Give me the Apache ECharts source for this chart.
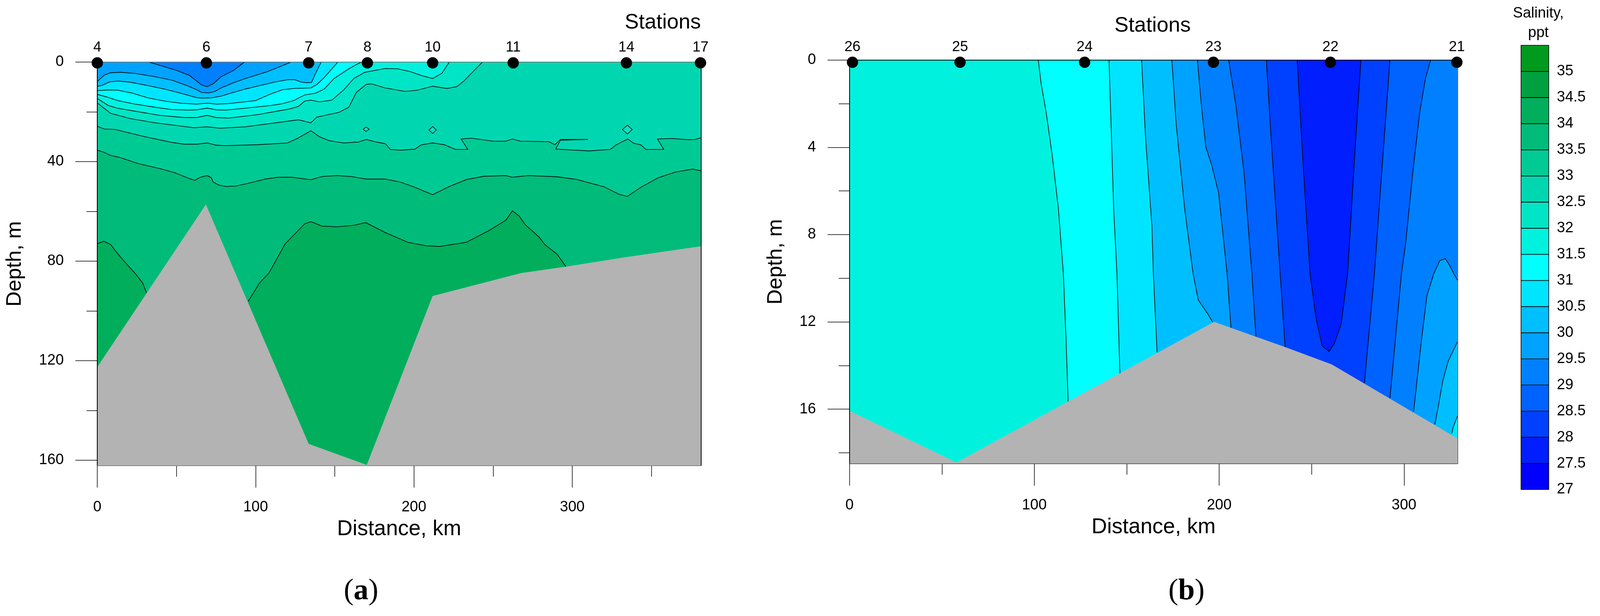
<!DOCTYPE html>
<html>
<head>
<meta charset="utf-8">
<style>html,body{margin:0;padding:0;background:#fff}#main{width:100%;height:1578px}</style>
<script src="https://cdn.jsdelivr.net/npm/echarts@6/dist/echarts.min.js"></script>
</head>
<body>
<div id="main"></div>
<script>
// salinity classes, lower bound of each band and its colour
const levels = [27, 27.5, 28, 28.5, 29, 29.5, 30, 30.5, 31, 31.5, 32, 32.5, 33, 33.5, 34, 34.5, 35];
const bandColors = ['#0000ff', '#001eff', '#0040ff', '#0062ff', '#0080ff', '#00a2ff', '#00bfff', '#00e5ff', '#00ffff', '#00f2de', '#00e5c5', '#00d7b0', '#00ca94', '#00bb79', '#00ae5c', '#00a040', '#009a1e'];
const colorOf = lvl => bandColors[levels.indexOf(lvl)];

// section (a), [distance km, depth m]
const stationsA = ['4', '6', '7', '8', '10', '11', '14', '17'];
const stationKmA = [0, 68.9, 133.5, 170.6, 211.8, 262.7, 334.2, 381];
const xMaxA = 381.3, yMaxA = 162.2;
const a295 = [[32.4,0],[39.4,1.3],[50.3,3.4],[58,5.3],[62.7,7.6],[65.8,9.2],[69.4,9.9],[73.2,8.7],[78.2,5.9],[86,3.4],[92.9,0]];
const a30 = [[0,7.8],[4.5,5.2],[8.4,4.3],[14.6,4.1],[23.9,4.6],[34.8,5.7],[47.2,7.3],[56.5,9.4],[62.7,11.1],[65.8,12.2],[70.4,12.4],[74.3,11.8],[78.2,10.4],[86,8.3],[93.7,6.6],[107.7,3.8],[122.4,0]];
const a305 = [[0,9.7],[2.9,9.4],[7.6,8],[13,7.6],[20.8,8.1],[31.6,9.4],[44.1,11.1],[54.9,12.9],[62.7,14.3],[65.8,14.5],[72,14.4],[78.2,13.7],[86,12.2],[93.7,10.8],[103,9.4],[112.3,8],[120.1,7.1],[124.8,7.1],[128.6,8],[132.5,8.3],[135.3,8.2],[137.9,4.5],[141.4,0]];
const a31 = [[0,11.5],[6.8,11.2],[13,11.3],[22.3,12.5],[31.6,14.3],[42.5,15.7],[53.4,16.6],[62.7,16.9],[69.7,16.5],[75.1,16.9],[82.9,16.7],[99.9,15.5],[109.2,12.9],[117,11.1],[124.8,10.6],[134.9,10.4],[138.7,9],[143.4,6.2],[151.9,0]];
const a315 = [[0,13],[5.3,13.9],[13,15.5],[23.9,16.9],[37.9,18.3],[47.2,19.1],[56.5,19.3],[62.7,19.2],[69.4,18.5],[75.1,19.2],[81.3,19.3],[93.7,18.5],[109.2,17.5],[117,16.7],[124,15.5],[131,13.2],[137.9,12.5],[143.4,10.8],[149.6,6.6],[158.9,2.7],[163.6,1],[167,0]];
const a32 = [[0,14.6],[6.8,17.4],[13,18.6],[25.4,19.9],[39.4,21.4],[54.9,22.3],[62.7,22.3],[69.4,21.4],[75.1,22.3],[82.9,22.5],[101.5,21.1],[121.7,18.8],[127.1,17.8],[131,15.7],[134.9,15.3],[140.3,16],[148.1,15.3],[155.8,11.1],[162,6.6],[169,4.1],[181.9,2.6],[189.7,2.7],[197.5,3.8],[205.2,5.5],[211.8,6.6],[217.7,4.5],[222.3,0]];
const a325 = [[0,16.4],[8.4,20.6],[20.8,22.7],[36.3,24.4],[61.1,26.4],[69.4,26],[77.4,26.6],[93.7,26],[127.1,23.2],[134.9,24.4],[138.7,22.1],[152.7,20.2],[158.9,18.1],[163.6,12.2],[169.8,9],[172.9,8.7],[181.9,10.4],[194.4,11.8],[202.1,11.3],[211.8,9.7],[220.8,10.6],[227,9.9],[231.6,7.6],[236.3,4.5],[243.3,0]];
const a33 = [[0,25.8],[4.5,26.9],[11.5,27.1],[19.2,28.3],[30.1,30],[47.2,32.3],[54.9,33],[62.7,33],[69.4,32.5],[75.1,33.4],[80.5,33.6],[101.5,33.2],[120.1,32.5],[126.3,30.7],[134.9,27.6],[140.3,30],[146.5,31.6],[155.8,32.5],[165.1,32.1],[169.8,31.1],[176,32.1],[181.9,32.8],[185.1,35.1],[191.3,35.4],[200.6,35],[204.5,33.3],[211.8,32.5],[219.2,33.2],[226.2,35.1],[234,35.1],[229.8,30.9],[236.3,30.6],[250.2,31.8],[258,31.8],[262.2,30.9],[267.3,31.8],[285.2,32],[289.1,33.2],[292.5,31.1],[310,31.1],[292.5,31.4],[289.5,35],[310.8,35.7],[324,35.1],[327.9,33.2],[335.1,30.9],[338.7,32.6],[343.4,33.3],[346.5,35.1],[357.8,35.1],[353.8,30.9],[363.5,30.7],[372.9,31.2],[377.5,31.1],[381.3,30.4]];
const a335 = [[0,35.4],[3.7,36.1],[8.4,37.5],[14.6,38.4],[25.4,40.7],[39.4,42.8],[48.7,44.4],[58,46.8],[61.6,47.5],[65,46.3],[69.4,45.6],[72,46.5],[73.2,48.2],[76.7,49.4],[81.3,50],[87.5,49.8],[95.3,48.7],[106.2,47],[113.9,46.3],[123.2,46.3],[134.9,47.3],[141.9,46],[151.2,45.6],[160.5,46],[169.8,47],[181.9,47],[191.3,48.2],[200.6,50.3],[211.8,53.3],[222.3,50],[233.2,47.2],[244,45.9],[258,45.6],[262.2,46.3],[272,45.6],[290.6,46.1],[303,47.2],[320.1,50.1],[329.4,53.1],[334.8,54],[343.4,50.3],[354.2,46.5],[365.1,44.2],[376,43],[381.3,43.7]];
const a34left = [[0,73],[4.1,72],[8.4,73.3],[11.5,75.9],[16.1,79.4],[23.9,84.9],[28.6,88.7],[31.1,92.7]];
const a34right = [[95.3,96.2],[102.5,88.7],[108.4,84.8],[118.6,73.1],[131,65],[134.9,64.1],[141.9,65.9],[151.2,66.2],[162,65.6],[169.5,64.5],[181.9,68.5],[196,72.4],[207.6,73.8],[216.1,74.1],[233.2,72.4],[247.1,67.8],[258,63.6],[262.2,59.8],[266.5,61.9],[270.4,65.4],[279,70.3],[282.8,73.4],[290.6,77.3],[296,82.2]];
const aDiamond1 = [[169.8,26.1],[171.7,27],[169.8,27.9],[167.9,27],[169.8,26.1]];
const aDiamond2 = [[211.8,25.9],[214.1,27.3],[211.8,28.7],[209.5,27.3],[211.8,25.9]];
const aDiamond3 = [[334.8,25.4],[337.9,27.1],[334.8,28.9],[331.7,27.1],[334.8,25.4]];
const seabedA = [[0,122.5],[68.6,57.2],[133.5,153.4],[170.2,161.9],[211.8,94],[267.7,84.8],[296,82.2],[332.5,78.5],[381.3,74],[381.3,162.2],[0,162.2]];

// section (b)
const stationsB = ['26', '25', '24', '23', '22', '21'];
const stationKmB = [1.6, 59.8, 127.2, 196.9, 260.2, 328.6];
const xMaxB = 329, yMaxB = 18.5;
const b315 = [[102.1,0],[103.7,1.1],[106.4,2.4],[109.7,4.4],[113,6.8],[115.7,9.8],[117.1,12.7],[118.3,15.7]];
const b31 = [[140.4,0],[141.6,3.2],[142.9,6.8],[144.7,9.8],[146.3,14.4]];
const b305 = [[158,0],[160.2,3.6],[163.6,7.6],[164.4,9.8],[166.4,13.4]];
const b30 = [[174.4,0],[176.7,2.9],[181.3,6.8],[185.9,9.8],[188.7,11],[193.6,11.6],[196.4,12]];
const b295 = [[188.2,0],[190.5,2.2],[192.8,4],[195.9,4.8],[199.7,6.1],[204.3,9.8],[206.4,12.3]];
const b29 = [[205.1,0],[208.9,2],[213.5,5.2],[217.7,9.8],[219.9,12.7]];
const b285 = [[225.5,0],[228.1,3.6],[233,9.8],[235.7,13.2]];
const b28 = [[242.2,0],[245.7,5.2],[249.2,9.8],[252.3,11.8],[255.7,13.1],[259.4,13.35],[262.3,13],[266,12.1],[269.5,9.8],[273.3,4.4],[276.7,0]];
const r285 = [[292.4,0],[288.6,4.4],[284,9.8],[278.6,14.8]];
const r29 = [[314.4,0],[311.6,0.85],[308.5,2.4],[304.7,5.2],[300.9,8.4],[298.6,9.8],[292.4,15.5]];
const r295 = [[329,10.1],[327,9.8],[324.6,9.4],[322.3,9.1],[319.3,9.2],[316.1,9.8],[312.4,10.8],[309.5,12.8],[305.2,16.1]];
const r30 = [[329,12.9],[323.9,13.8],[321,14.7],[318.7,15.8],[316.7,16.7]];
const r305 = [[329,16.3],[326.7,16.8],[325.9,17.1]];
const seabedB = [[0,16.07],[57.8,18.44],[197.3,12],[236.5,13.18],[260.9,13.95],[329,17.34],[329,18.5],[0,18.5]];

// ticks
const kmMajor = [0, 100, 200, 300];
const kmMinor = [50, 150, 250, 350];
const kmMinorB = [50, 150, 250];
const depthMajorA = [0, 40, 80, 120, 160];
const depthMinorA = [20, 60, 100, 140];
const depthMajorB = [0, 4, 8, 12, 16];
const depthMinorB = [2, 6, 10, 14, 18];

const FONT = '"Liberation Sans", Arial, sans-serif';

// the window can be narrower than the 4152 px of the figure, so horizontal layout goes through this
const sx = document.getElementById('main').clientWidth / 4152;

// region under a contour, the part that gets the next band when painted in order
function below(pts, xMax, yMax) {
  const first = pts[0], last = pts[pts.length - 1];
  const tail = last[1] === 0 ? [[xMax, 0], [xMax, yMax]] : [[last[0], yMax]];
  return pts.concat(tail, [[first[0], yMax]]);
}
function rightOf(pts, xMax, yMax) {
  const first = pts[0], last = pts[pts.length - 1];
  return pts.concat([[last[0], yMax], [xMax, yMax], [xMax, first[1]]]);
}

const shapesA = [
  { ring: [[0, 0], [xMaxA, 0], [xMaxA, yMaxA], [0, yMaxA]], color: colorOf(29.5) },
  { ring: a295, line: a295, color: colorOf(29) },
  { ring: below(a30, xMaxA, yMaxA), line: a30, color: colorOf(30) },
  { ring: below(a305, xMaxA, yMaxA), line: a305, color: colorOf(30.5) },
  { ring: below(a31, xMaxA, yMaxA), line: a31, color: colorOf(31) },
  { ring: below(a315, xMaxA, yMaxA), line: a315, color: colorOf(31.5) },
  { ring: below(a32, xMaxA, yMaxA), line: a32, color: colorOf(32) },
  { ring: below(a325, xMaxA, yMaxA), line: a325, color: colorOf(32.5) },
  { ring: aDiamond1, line: aDiamond1, color: colorOf(32) },
  { ring: aDiamond2, line: aDiamond2, color: colorOf(32) },
  { ring: aDiamond3, line: aDiamond3, color: colorOf(32) },
  { ring: below(a33, xMaxA, yMaxA), line: a33, color: colorOf(33) },
  { ring: below(a335, xMaxA, yMaxA), line: a335, color: colorOf(33.5) },
  { ring: below(a34left, xMaxA, yMaxA), line: a34left, color: colorOf(34) },
  { ring: below(a34right, xMaxA, yMaxA), line: a34right, color: colorOf(34) },
  { ring: seabedA, color: '#b3b3b3' }
];

const shapesB = [
  { ring: [[0, 0], [xMaxB, 0], [xMaxB, yMaxB], [0, yMaxB]], color: colorOf(31.5) },
  { ring: rightOf(b315, xMaxB, yMaxB), line: b315, color: colorOf(31) },
  { ring: rightOf(b31, xMaxB, yMaxB), line: b31, color: colorOf(30.5) },
  { ring: rightOf(b305, xMaxB, yMaxB), line: b305, color: colorOf(30) },
  { ring: rightOf(b30, xMaxB, yMaxB), line: b30, color: colorOf(29.5) },
  { ring: rightOf(b295, xMaxB, yMaxB), line: b295, color: colorOf(29) },
  { ring: rightOf(b29, xMaxB, yMaxB), line: b29, color: colorOf(28.5) },
  { ring: rightOf(b285, xMaxB, yMaxB), line: b285, color: colorOf(28) },
  { ring: b28, line: b28, color: colorOf(27.5) },
  { ring: rightOf(r285, xMaxB, yMaxB), line: r285, color: colorOf(28.5) },
  { ring: rightOf(r29, xMaxB, yMaxB), line: r29, color: colorOf(29) },
  { ring: rightOf(r295, xMaxB, yMaxB), line: r295, color: colorOf(29.5) },
  { ring: rightOf(r30, xMaxB, yMaxB), line: r30, color: colorOf(30) },
  { ring: rightOf(r305, xMaxB, yMaxB), line: r305, color: colorOf(30.5) },
  { ring: seabedB, color: '#b3b3b3' }
];

function drawShape(shapes) {
  return function (params, api) {
    const s = shapes[params.dataIndex];
    const children = [{
      type: 'polygon',
      shape: { points: s.ring.map(p => api.coord(p)) },
      style: { fill: s.color, stroke: null }
    }];
    if (s.line) {
      children.push({
        type: 'polyline',
        shape: { points: s.line.map(p => api.coord(p)) },
        style: { fill: null, stroke: '#000', lineWidth: 1.6 }
      });
    }
    return { type: 'group', children: children };
  };
}

function drawCell(params, api) {
  const lo = api.value(0);
  const p0 = api.coord([0, lo + 0.5]);
  const p1 = api.coord([1, lo]);
  return {
    type: 'rect',
    shape: { x: p0[0], y: p0[1], width: p1[0] - p0[0], height: p1[1] - p0[1] },
    style: { fill: bandColors[params.dataIndex], stroke: '#000', lineWidth: 1.6 }
  };
}

const lab = { color: '#000', fontFamily: FONT, fontSize: 38 };
const hide = { show: false };

function bottomAxes(grid, xMax, major, minor, gap, frameTop, frameBottom) {
  return [
    {
      type: 'value', gridIndex: grid, position: 'bottom', min: 0, max: xMax, z: 5,
      name: 'Distance, km', nameLocation: 'middle', nameGap: gap,
      nameTextStyle: { color: '#000', fontFamily: FONT, fontSize: 55 },
      splitLine: hide,
      axisLine: { onZero: false, lineStyle: { color: frameBottom, width: 2 } },
      axisTick: { length: 56, customValues: major, lineStyle: { color: '#000', width: 1.5 } },
      axisLabel: Object.assign({ margin: 88, customValues: major, hideOverlap: false }, lab)
    },
    {
      type: 'value', gridIndex: grid, position: 'bottom', min: 0, max: xMax,
      splitLine: hide, axisLabel: hide,
      axisLine: { show: false, onZero: false },
      axisTick: { length: 28, customValues: minor, lineStyle: { color: '#000', width: 1.5 } }
    },
    {
      type: 'value', gridIndex: grid, position: 'top', min: 0, max: xMax, z: 5,
      splitLine: hide, axisTick: hide, axisLabel: hide,
      axisLine: { onZero: false, lineStyle: { color: frameTop, width: 2 } }
    }
  ];
}

function sideAxes(grid, yMax, major, minor, gap, frameRight) {
  return [
    {
      type: 'value', gridIndex: grid, position: 'left', inverse: true, min: 0, max: yMax, z: 5,
      name: 'Depth, m', nameLocation: 'middle', nameGap: gap * sx,
      nameTextStyle: { color: '#000', fontFamily: FONT, fontSize: 54 },
      splitLine: hide,
      axisLine: { onZero: false, lineStyle: { color: '#000', width: 2 } },
      axisTick: { length: 57 * sx, customValues: major, lineStyle: { color: '#000', width: 1.5 } },
      axisLabel: Object.assign({ margin: 87 * sx, customValues: major, hideOverlap: false }, lab)
    },
    {
      type: 'value', gridIndex: grid, position: 'left', inverse: true, min: 0, max: yMax,
      splitLine: hide, axisLabel: hide,
      axisLine: { show: false, onZero: false },
      axisTick: { length: 28 * sx, customValues: minor, lineStyle: { color: '#000', width: 1.5 } }
    },
    {
      type: 'value', gridIndex: grid, position: 'right', inverse: true, min: 0, max: yMax, z: 5,
      splitLine: hide, axisTick: hide, axisLabel: hide,
      axisLine: { onZero: false, lineStyle: { color: frameRight, width: 2 } }
    }
  ];
}

function stationSeries(axisX, axisY, names, kms, offset) {
  return {
    type: 'scatter', xAxisIndex: axisX, yAxisIndex: axisY, z: 10,
    clip: false, symbol: 'circle', symbolSize: 29, symbolOffset: [0, offset],
    itemStyle: { color: '#000', opacity: 1 },
    label: {
      show: true, position: 'top', distance: 6,
      color: '#000', fontFamily: FONT, fontSize: 37,
      formatter: p => names[p.dataIndex]
    },
    data: kms.map(k => [k, 0])
  };
}

function sectionLabel(x, letter) {
  return {
    type: 'text', x: x * sx, y: 1515,
    style: {
      text: '{n|(}{b|' + letter + '}{n|)}', align: 'center', verticalAlign: 'middle',
      rich: {
        n: { font: '76px "Liberation Serif", serif', fill: '#000' },
        b: { font: 'bold 76px "Liberation Serif", serif', fill: '#000' }
      }
    }
  };
}

function plainText(text, x, y, size) {
  return {
    type: 'text', x: x * sx, y: y,
    style: { text: text, fill: '#000', font: size + 'px ' + FONT, align: 'center', verticalAlign: 'middle' }
  };
}

const myChart = echarts.init(document.getElementById('main'));

myChart.setOption({
  animation: false,
  backgroundColor: '#fff',
  grid: [
    { left: 252.5 * sx, top: 159, width: 1566.5 * sx, height: 1034 },
    { left: 2204.5 * sx, top: 153.6, width: 1578 * sx, height: 1034.4 },
    { left: 3947 * sx, top: 116, width: 72 * sx, height: 1138 }
  ],
  xAxis: bottomAxes(0, xMaxA, kmMajor, kmMinor, 135, '#777', '#888')
    .concat(bottomAxes(1, xMaxB, kmMajor, kmMinorB, 135, '#000', '#666'))
    .concat([{ type: 'value', gridIndex: 2, min: 0, max: 1, show: false }]),
  yAxis: sideAxes(0, yMaxA, depthMajorA, depthMinorA, 187, '#000')
    .concat(sideAxes(1, yMaxB, depthMajorB, depthMinorB, 164, '#777'))
    .concat([{
      type: 'value', gridIndex: 2, position: 'right', min: 27, max: 35.5, interval: 0.5,
      splitLine: hide, axisLine: hide, axisTick: hide,
      axisLabel: Object.assign({ margin: 21 * sx, customValues: levels, hideOverlap: false, formatter: v => String(v) }, lab)
    }]),
  series: [
    {
      type: 'custom', xAxisIndex: 0, yAxisIndex: 0, z: 2, silent: true,
      renderItem: drawShape(shapesA), data: shapesA.map((s, i) => [i])
    },
    {
      type: 'custom', xAxisIndex: 3, yAxisIndex: 3, z: 2, silent: true,
      renderItem: drawShape(shapesB), data: shapesB.map((s, i) => [i])
    },
    {
      type: 'custom', xAxisIndex: 6, yAxisIndex: 6, z: 2, silent: true,
      renderItem: drawCell, data: levels.map(l => [l])
    },
    stationSeries(0, 0, stationsA, stationKmA, 2),
    stationSeries(3, 3, stationsB, stationKmB, 6)
  ],
  graphic: [
    plainText('Stations', 1720, 58, 54),
    plainText('Stations', 2991, 66, 54),
    plainText('Salinity,', 3992, 35, 38),
    plainText('ppt', 3992, 85, 38),
    sectionLabel(937, 'a'),
    sectionLabel(3079, 'b')
  ]
});
</script>
</body>
</html>
